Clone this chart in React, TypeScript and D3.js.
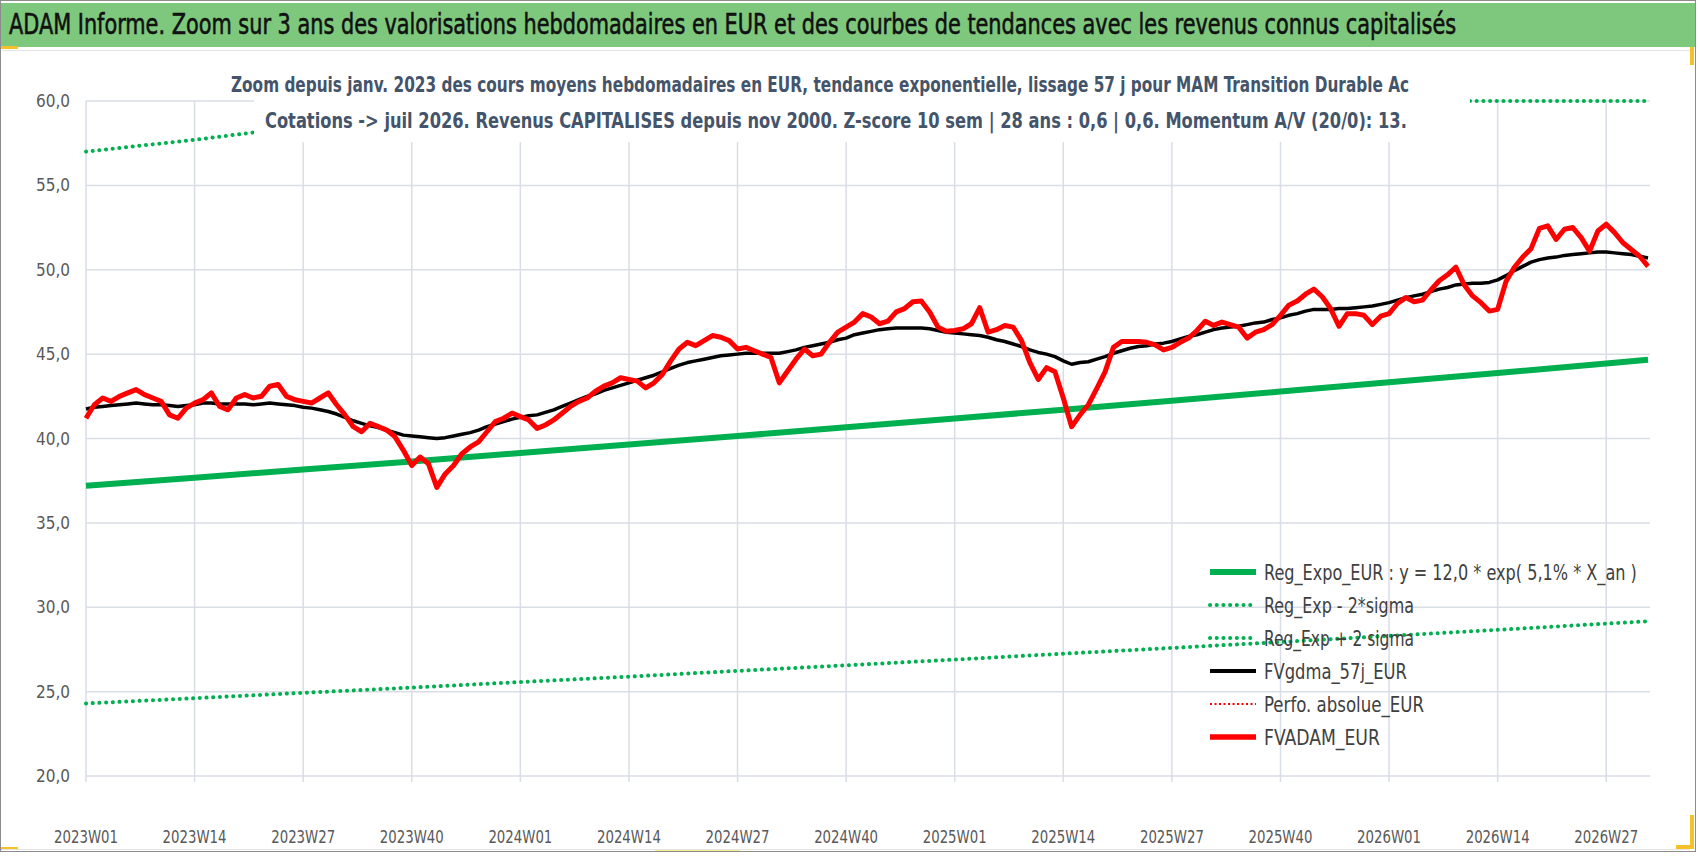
import React, { useLayoutEffect, useRef, useState } from "react";
import { scaleLinear, scalePoint, line } from "d3";

// week categories 2023W01 -> 2026W32
const YEARS: [number, number][] = [[2023, 52], [2024, 52], [2025, 52], [2026, 32]];
const weeks: string[] = [];
YEARS.forEach(([y, n]) => {
  for (let w = 1; w <= n; w++) weeks.push(`${y}W${String(w).padStart(2, "0")}`);
});

const tickWeeks = [
  "2023W01", "2023W14", "2023W27", "2023W40",
  "2024W01", "2024W14", "2024W27", "2024W40",
  "2025W01", "2025W14", "2025W27", "2025W40",
  "2026W01", "2026W14", "2026W27",
];
const yTicks = [20, 25, 30, 35, 40, 45, 50, 55, 60];

// FVADAM_EUR weekly values
const fvAdam = [
  41.2, 42.0, 42.4, 42.2, 42.5, 42.7, 42.9, 42.6, 42.4, 42.2, 41.4, 41.2, 41.8,
  42.1, 42.3, 42.7, 41.9, 41.7, 42.4, 42.6, 42.4, 42.5, 43.1, 43.2, 42.5, 42.3,
  42.2, 42.1, 42.4, 42.7, 42.0, 41.4, 40.7, 40.4, 40.9, 40.7, 40.5, 40.1, 39.3,
  38.4, 38.9, 38.5, 37.1, 37.9, 38.4, 39.1, 39.5, 39.8, 40.4, 41.0, 41.2, 41.5,
  41.3, 41.1, 40.6, 40.8, 41.1, 41.5, 41.9, 42.2, 42.4, 42.8, 43.1, 43.3, 43.6,
  43.5, 43.4, 43.0, 43.3, 43.8, 44.6, 45.3, 45.7, 45.5, 45.8, 46.1, 46.0, 45.8,
  45.3, 45.4, 45.2, 45.0, 44.8, 43.3, 44.0, 44.7, 45.3, 44.9, 45.0, 45.7, 46.3,
  46.6, 46.9, 47.4, 47.2, 46.8, 46.95, 47.5, 47.7, 48.1, 48.15, 47.5, 46.6, 46.35,
  46.4, 46.5, 46.8, 47.75, 46.3, 46.45, 46.7, 46.6, 45.8, 44.5, 43.5, 44.2, 43.95,
  42.4, 40.7, 41.4, 42.0, 42.95, 43.95, 45.4, 45.75, 45.75, 45.75, 45.7, 45.55, 45.25,
  45.4, 45.7, 45.95, 46.4, 46.95, 46.7, 46.9, 46.75, 46.6, 45.95, 46.3, 46.45, 46.75,
  47.3, 47.9, 48.15, 48.55, 48.85, 48.4, 47.7, 46.65, 47.4, 47.4, 47.3, 46.75, 47.25,
  47.4, 48.0, 48.35, 48.1, 48.2, 48.8, 49.35, 49.7, 50.15, 49.1, 48.45, 48.05, 47.55,
  47.65, 49.3, 50.15, 50.75, 51.25, 52.45, 52.6, 51.8, 52.4, 52.5, 51.9, 51.1, 52.3,
  52.7, 52.2, 51.6, 51.2, 50.8, 50.2,
];

// FVgdma_57j_EUR (smoothed)
const fvGdma = [
  41.75, 41.85, 41.9, 41.95, 42.0, 42.05, 42.1, 42.05, 42.0, 42.0, 41.95, 41.9, 41.95,
  42.0, 42.1, 42.1, 42.05, 42.05, 42.05, 42.05, 42.0, 42.05, 42.1, 42.05, 42.0, 41.95,
  41.85, 41.8, 41.7, 41.6, 41.45, 41.25, 41.05, 40.9, 40.75, 40.65, 40.5, 40.35, 40.2,
  40.15, 40.1, 40.05, 40.0, 40.05, 40.15, 40.25, 40.35, 40.5, 40.7, 40.85, 41.0, 41.15,
  41.25, 41.35, 41.4, 41.55, 41.7, 41.9, 42.1, 42.3, 42.5, 42.65, 42.85, 43.0, 43.15,
  43.3, 43.45, 43.6, 43.75, 43.95, 44.15, 44.35, 44.5, 44.6, 44.7, 44.8, 44.9, 44.95,
  45.0, 45.05, 45.05, 45.05, 45.05, 45.05, 45.15, 45.25, 45.4, 45.5, 45.6, 45.7, 45.85,
  45.95, 46.15, 46.25, 46.35, 46.45, 46.5, 46.55, 46.55, 46.55, 46.55, 46.5, 46.4, 46.3,
  46.25, 46.2, 46.15, 46.1, 46.0, 45.85, 45.75, 45.6, 45.45, 45.25, 45.1, 45.0, 44.85,
  44.6, 44.4, 44.5, 44.55, 44.7, 44.85, 45.05, 45.2, 45.35, 45.45, 45.5, 45.6, 45.65,
  45.75, 45.9, 46.05, 46.15, 46.3, 46.45, 46.55, 46.6, 46.65, 46.75, 46.85, 46.9, 47.05,
  47.15, 47.3, 47.4, 47.55, 47.65, 47.65, 47.65, 47.7, 47.7, 47.75, 47.8, 47.85, 47.95,
  48.05, 48.2, 48.35, 48.45, 48.55, 48.7, 48.85, 48.95, 49.1, 49.15, 49.2, 49.2, 49.25,
  49.4, 49.65, 49.95, 50.2, 50.45, 50.6, 50.7, 50.75, 50.85, 50.9, 50.95, 51.0, 51.05,
  51.05, 51.0, 50.95, 50.9, 50.8, 50.7,
];

// trend curves read at each labelled week + last week
const trendWeeks = [...tickWeeks, "2026W32"];
const regExpo = [37.2, 37.68, 38.16, 38.64, 39.14, 39.64, 40.15, 40.66, 41.18, 41.71, 42.24, 42.78, 43.33, 43.88, 44.44, 44.66];
const regLow = [24.3, 24.61, 24.93, 25.24, 25.57, 25.89, 26.23, 26.56, 26.9, 27.25, 27.59, 27.94, 28.3, 28.66, 29.03, 29.17];
const regHigh = [57.0, 57.7, 58.5, 59.2, 60.0, 60.7, 61.5, 62.3, 63.1, 63.9, 64.7, 65.6, 66.4, 67.2, 68.1, 68.4];

const TITLE = "ADAM Informe. Zoom sur 3 ans des valorisations hebdomadaires en EUR et des courbes de tendances avec les revenus connus capitalisés";
const SUB1 = "Zoom depuis janv. 2023 des cours moyens hebdomadaires en EUR, tendance exponentielle, lissage 57 j pour MAM Transition Durable Ac";
const SUB2 = "Cotations -> juil 2026. Revenus CAPITALISES depuis nov 2000. Z-score 10 sem | 28 ans : 0,6 | 0,6. Momentum A/V (20/0): 13.";

const FONT = "'Liberation Sans Narrow', 'DejaVu Sans Condensed', 'Open Sans', sans-serif";
const GREEN = "#00B050";
const GRID = "#D9DDE6";
const DOTS = "0.1 6.6";

// squeezes a text horizontally to a given width (condensed look, like Calibri)
const FitText = ({ x, y, width, anchor = "start", children, ...rest }: any) => {
  const ref = useRef<SVGTextElement>(null);
  const [k, setK] = useState(1);
  useLayoutEffect(() => {
    const n = ref.current ? ref.current.getComputedTextLength() : 0;
    if (n > 0) setK(width / n);
  }, [width, children]);
  return (
    <text ref={ref} transform={`translate(${x},${y}) scale(${k},1)`} textAnchor={anchor} {...rest}>
      {children}
    </text>
  );
};

export default function App() {
  const x = scalePoint<string>().domain(weeks).range([86, 1648]);
  const y = scaleLinear().domain([20, 60]).range([776, 101]);

  const weekLine = line<number>()
    .x((_, i) => x(weeks[i])!)
    .y((d) => y(d));
  const trendLine = line<number>()
    .x((_, i) => x(trendWeeks[i])!)
    .y((d) => y(Math.min(d, 60)));

  const legend = [
    { label: "Reg_Expo_EUR : y = 12,0 *  exp( 5,1% *  X_an )", color: GREEN, w: 6, dash: "", cap: "butt", len: 373 },
    { label: "Reg_Exp - 2*sigma", color: GREEN, w: 4, dash: DOTS, cap: "round", len: 150 },
    { label: "Reg_Exp + 2 sigma", color: GREEN, w: 4, dash: DOTS, cap: "round", len: 150 },
    { label: "FVgdma_57j_EUR", color: "#000", w: 4, dash: "", cap: "butt", len: 143 },
    { label: "Perfo. absolue_EUR", color: "#FF0000", w: 2.2, dash: "2 2.5", cap: "butt", len: 160 },
    { label: "FVADAM_EUR", color: "#FF0000", w: 5.5, dash: "", cap: "butt", len: 116 },
  ];

  return (
    <div style={{ position: "absolute", left: 0, top: 0 }}>
      <svg width={1698} height={856} style={{ display: "block", background: "#fff" }}>
        {/* frame + title band */}
        <rect x={0.5} y={0.5} width={1695} height={851} fill="#fff" stroke="#8C8C8C" />
        <rect x={1} y={3} width={1694} height={44} fill="#7EC87E" />
        <rect x={1} y={46} width={17} height={3} fill="#F5C02A" />
        <rect x={1690} y={47} width={4} height={18} fill="#F5C02A" />
        <rect x={1690} y={815} width={4} height={34} fill="#F5C02A" />
        <rect x={1676} y={845} width={18} height={4} fill="#F5C02A" />
        <rect x={655} y={849} width={85} height={2} fill="#F6EE8A" />
        <rect x={1} y={847} width={17} height={3} fill="#F5C02A" />
        <FitText x={9} y={34} width={1448} fontFamily={FONT} fontSize={29} fill="#111" stroke="#111" strokeWidth={0.6}>
          {TITLE}
        </FitText>
        <line x1={2} x2={1690} y1={50.5} y2={50.5} stroke="#E4E4E4" />
        <line x1={2} x2={1690} y1={849.5} y2={849.5} stroke="#E4E4E4" />

        {/* grid */}
        {yTicks.map((t) => (
          <g key={t}>
            <line x1={86} x2={1650} y1={y(t)} y2={y(t)} stroke={GRID} strokeWidth={1.5} />
            <text x={70} y={y(t) + 6} textAnchor="end" fontFamily={FONT} fontSize={17} fill="#595959">
              {t.toFixed(1).replace(".", ",")}
            </text>
          </g>
        ))}
        {tickWeeks.map((w) => (
          <g key={w}>
            <line x1={x(w)} x2={x(w)} y1={y(60)} y2={y(20) + 6} stroke={GRID} strokeWidth={1.5} />
            <FitText x={x(w)} y={843} width={64} anchor="middle" fontFamily={FONT} fontSize={17} fill="#595959">
              {w}
            </FitText>
          </g>
        ))}

        {/* series */}
        <path d={trendLine(regHigh)!} fill="none" stroke={GREEN} strokeWidth={4} strokeDasharray={DOTS} strokeLinecap="round" />
        <path d={trendLine(regLow)!} fill="none" stroke={GREEN} strokeWidth={4} strokeDasharray={DOTS} strokeLinecap="round" />
        <path d={trendLine(regExpo)!} fill="none" stroke={GREEN} strokeWidth={6} />
        <path d={weekLine(fvGdma)!} fill="none" stroke="#000" strokeWidth={3.5} strokeLinejoin="round" />
        <path d={weekLine(fvAdam)!} fill="none" stroke="#FF0000" strokeWidth={5} strokeLinejoin="round" />

        {/* subtitle box */}
        <rect x={254} y={56} width={1216} height={86} fill="#fff" />
        <FitText x={231} y={92} width={1179} fontFamily={FONT} fontSize={22} fontWeight="bold" fill="#44546A">
          {SUB1}
        </FitText>
        <FitText x={265} y={128} width={1143} fontFamily={FONT} fontSize={22} fontWeight="bold" fill="#44546A">
          {SUB2}
        </FitText>

        {/* legend */}
        {legend.map((l, i) => {
          const ly = 572 + i * 33;
          return (
            <g key={l.label}>
              <line x1={1210} x2={1256} y1={ly} y2={ly} stroke={l.color} strokeWidth={l.w}
                strokeDasharray={l.dash || undefined} strokeLinecap={l.cap as any} />
              <FitText x={1264} y={ly + 8} width={l.len} fontFamily={FONT} fontSize={22} fill="#404040">
                {l.label}
              </FitText>
            </g>
          );
        })}
      </svg>
    </div>
  );
}
